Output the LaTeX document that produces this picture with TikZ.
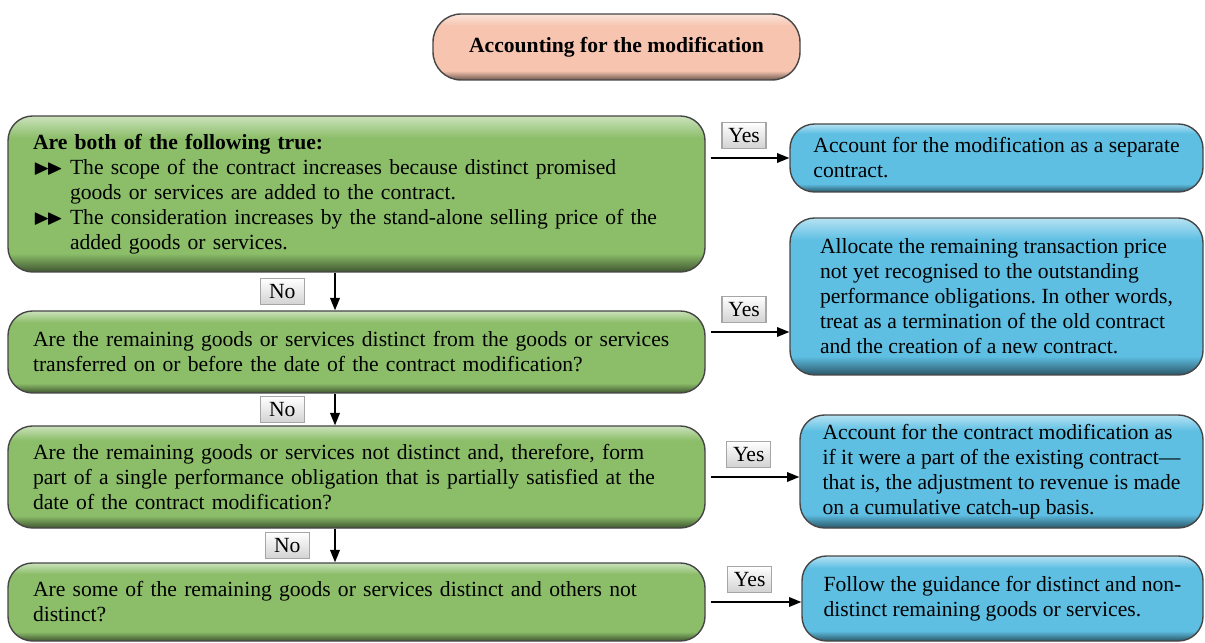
\documentclass[tikz,border=0pt]{standalone}
\usepackage{fontspec}
\setmainfont{Liberation Serif}
\usepackage{amssymb}
\usetikzlibrary{arrows.meta, positioning, calc}
\definecolor{modgreen}{HTML}{8CBE6A}
\definecolor{modblue}{HTML}{5EBFE3}
\definecolor{modpeach}{HTML}{F6C4AF}
\colorlet{modgreenD}{modgreen!45!black}
\colorlet{modgreenL}{modgreen!45!white}
\colorlet{modblueD}{modblue!45!black}
\colorlet{modblueL}{modblue!45!white}
\colorlet{modpeachD}{modpeach!45!black}
\colorlet{modpeachL}{modpeach!45!white}
\pgfdeclareverticalshading{greengloss}{100bp}{color(0bp)=(modgreenD); color(25bp)=(modgreenD); color(31bp)=(modgreen); color(68bp)=(modgreen); color(75bp)=(modgreenL); color(100bp)=(modgreenL)}
\pgfdeclareverticalshading{bluegloss}{100bp}{color(0bp)=(modblueD); color(25bp)=(modblueD); color(31bp)=(modblue); color(68bp)=(modblue); color(75bp)=(modblueL); color(100bp)=(modblueL)}
\pgfdeclareverticalshading{peachgloss}{100bp}{color(0bp)=(modpeachD); color(25bp)=(modpeachD); color(32bp)=(modpeach); color(66bp)=(modpeach); color(75bp)=(modpeachL); color(100bp)=(modpeachL)}
\newcommand{\mainsize}{\fontsize{12.3}{14.2}\selectfont}
\newcommand{\dbl}{\makebox[0.74cm][l]{$\blacktriangleright\mkern-3mu\blacktriangleright$}}
\frenchspacing

\begin{document}
\begin{tikzpicture}[
    decision/.style={
      rectangle, rounded corners=14pt, draw=gray!55!black, line width=0.8pt,
      shading=greengloss, text=black, font=\mainsize,
      minimum width=13.94cm, text width=12.94cm, align=left
    },
    outcome/.style={
      rectangle, rounded corners=14pt, draw=gray!55!black, line width=0.8pt,
      shading=bluegloss, text=black, font=\mainsize,
      minimum width=8.26cm, align=left
    },
    titlebox/.style={
      rectangle, rounded corners=16pt, draw=gray!55!black, line width=0.8pt,
      shading=peachgloss, text=black, font=\mainsize\bfseries,
      minimum width=7.34cm, minimum height=1.32cm, align=center
    },
    tag/.style={
      rectangle, draw=gray!70, top color=white, bottom color=gray!35,
      font=\mainsize, inner sep=1.5pt, minimum width=0.88cm, minimum height=0.52cm
    },
    arr/.style={-{Triangle[length=7pt, width=5.5pt]}, line width=0.8pt},
  ]
  \useasboundingbox (0,0) rectangle (24.1,12.84);

  \node[titlebox] (title) at (12.33,11.9) {Accounting for the modification};

  % Questions
  \node[decision, minimum height=3.12cm] (g1) at (7.13,8.96) {\textbf{Are both of the following true:}\\
    \dbl The scope of the contract increases because distinct promised\\
    \hspace*{0.74cm}goods or services are added to the contract.\\
    \dbl The consideration increases by the stand-alone selling price of the\\
    \hspace*{0.74cm}added goods or services.};
  \node[decision, minimum height=1.64cm] (g2) at (7.13,5.8) {Are the remaining goods or services distinct from the goods or services\\
    transferred on or before the date of the contract modification?};
  \node[decision, minimum height=2.04cm] (g3) at (7.13,3.3) {Are the remaining goods or services not distinct and, therefore, form\\
    part of a single performance obligation that is partially satisfied at the\\
    date of the contract modification?};
  \node[decision, minimum height=1.56cm] (g4) at (7.13,0.8) {Are some of the remaining goods or services distinct and others not\\
    distinct?};

  % Outcomes
  \node[outcome, minimum height=1.36cm] (b1) at (19.93,9.68) {Account for the modification as a separate\\
    contract.};
  \node[outcome, minimum height=3.14cm] (b2) at (19.93,6.91) {Allocate the remaining transaction price\\
    not yet recognised to the outstanding\\
    performance obligations. In other words,\\
    treat as a termination of the old contract\\
    and the creation of a new contract.};
  \node[outcome, minimum height=2.26cm, minimum width=8.06cm] (b3) at (20.03,3.41) {Account for the contract modification as\\
    if it were a part of the existing contract---\\
    that is, the adjustment to revenue is made\\
    on a cumulative catch-up basis.};
  \node[outcome, minimum height=1.70cm, minimum width=8.02cm] (b4) at (20.05,0.87) {Follow the guidance for distinct and non-\\
    distinct remaining goods or services.};

  % No arrows
  \draw[arr] ([xshift=-0.43cm]g1.south) -- node[tag, left=0.6cm] {No} ([xshift=-0.43cm]g2.north);
  \draw[arr] ([xshift=-0.43cm]g2.south) -- node[tag, left=0.6cm] {No} ([xshift=-0.43cm]g3.north);
  \draw[arr] ([xshift=-0.43cm]g3.south) -- node[tag, left=0.5cm] {No} ([xshift=-0.43cm]g4.north);

  % Yes arrows
  \draw[arr, shorten <=0.1cm] (g1.east |- b1.west) -- node[tag, above=0.18cm, pos=0.46] {Yes} (b1.west);
  \draw[arr, shorten <=0.1cm] ([yshift=0.4cm]g2.east) -- node[tag, above=0.18cm, pos=0.46] {Yes} ([yshift=0.4cm]g2.east -| b2.west);
  \draw[arr, shorten <=0.1cm] (g3.east) -- node[tag, above=0.18cm, pos=0.46] {Yes} (g3.east -| b3.west);
  \draw[arr, shorten <=0.1cm] (g4.east) -- node[tag, above=0.18cm, pos=0.46] {Yes} (g4.east -| b4.west);

\end{tikzpicture}
\end{document}
